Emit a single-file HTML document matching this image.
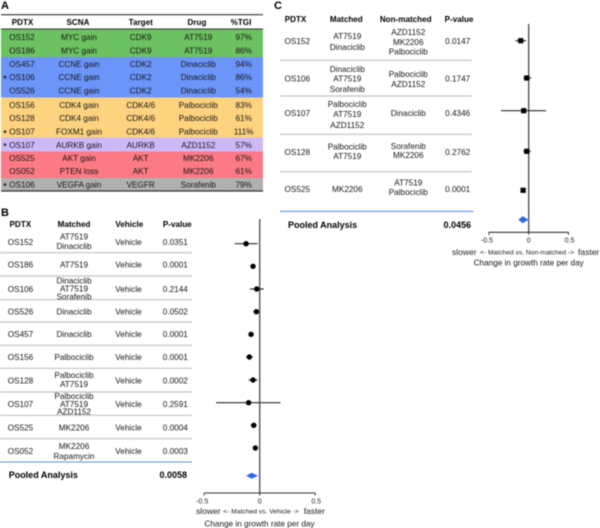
<!DOCTYPE html>
<html>
<head>
<meta charset="utf-8">
<style>
html,body{margin:0;padding:0;background:#fff;width:600px;height:528px;overflow:hidden}
svg{display:block;filter:blur(0.42px)}
text{font-family:"Liberation Sans",sans-serif;font-size:8.2px;fill:#151515}
.h{font-weight:bold;font-size:8.1px;fill:#000;text-anchor:middle}
.l{font-weight:bold;font-size:11px;fill:#000}
.p{font-weight:bold;font-size:9px;fill:#000}
.t{font-size:7px;text-anchor:middle;fill:#222}
.k{font-size:8.5px;fill:#222}
.a{font-size:6.7px;fill:#222}
.st{font-weight:bold;font-size:8.5px}
</style>
</head>
<body>
<svg id="figure" width="600" height="528" viewBox="0 0 600 528" xmlns="http://www.w3.org/2000/svg">
<g>
<text class="l" x="1" y="9">A</text>
<rect x="1" y="29" width="262" height="28" fill="#6cc160"/>
<rect x="1" y="57" width="262" height="40.500" fill="#6c95fa"/>
<rect x="1" y="97.500" width="262" height="40" fill="#fdd37f"/>
<rect x="1" y="137.500" width="262" height="14" fill="#cfb8f8"/>
<rect x="1" y="151.500" width="262" height="26.500" fill="#fc7a85"/>
<rect x="1" y="178" width="262" height="13" fill="#b0b0b0"/>
<line x1="1" x2="263" y1="14.700" y2="14.700" stroke="#333" stroke-width="1.200"/>
<line x1="1" x2="263" y1="29" y2="29" stroke="#333" stroke-width="1"/>
<line x1="1" x2="263" y1="191" y2="191" stroke="#333" stroke-width="1.200"/>
<text class="h" x="22.500" y="24.800">PDTX</text>
<text class="h" x="78" y="24.800">SCNA</text>
<text class="h" x="140.700" y="24.800">Target</text>
<text class="h" x="197" y="24.800">Drug</text>
<text class="h" x="241" y="24.800">%TGI</text>

<g text-anchor="middle"><text x="22" y="40.200">OS152</text><text x="79" y="40.200">MYC gain</text><text x="140.700" y="40.200">CDK9</text><text x="198.300" y="40.200">AT7519</text><text x="243.700" y="40.200">97%</text></g>
<g text-anchor="middle"><text x="22" y="53.600">OS186</text><text x="79" y="53.600">MYC gain</text><text x="140.700" y="53.600">CDK9</text><text x="198.300" y="53.600">AT7519</text><text x="243.700" y="53.600">86%</text></g>
<g text-anchor="middle"><text x="22" y="66.900">OS457</text><text x="79" y="66.900">CCNE gain</text><text x="140.700" y="66.900">CDK2</text><text x="198.300" y="66.900">Dinaciclib</text><text x="243.700" y="66.900">94%</text></g>
<g text-anchor="middle"><text class="st" x="5" y="81.500">*</text><text x="22" y="80.200">OS106</text><text x="79" y="80.200">CCNE gain</text><text x="140.700" y="80.200">CDK2</text><text x="198.300" y="80.200">Dinaciclib</text><text x="243.700" y="80.200">86%</text></g>
<g text-anchor="middle"><text x="22" y="93.600">OS526</text><text x="79" y="93.600">CCNE gain</text><text x="140.700" y="93.600">CDK2</text><text x="198.300" y="93.600">Dinaciclib</text><text x="243.700" y="93.600">54%</text></g>
<g text-anchor="middle"><text x="22" y="107.900">OS156</text><text x="79" y="107.900">CDK4 gain</text><text x="140.700" y="107.900">CDK4/6</text><text x="198.300" y="107.900">Palbociclib</text><text x="243.700" y="107.900">83%</text></g>
<g text-anchor="middle"><text x="22" y="121.200">OS128</text><text x="79" y="121.200">CDK4 gain</text><text x="140.700" y="121.200">CDK4/6</text><text x="198.300" y="121.200">Palbociclib</text><text x="243.700" y="121.200">61%</text></g>
<g text-anchor="middle"><text class="st" x="5" y="135.900">*</text><text x="22" y="134.600">OS107</text><text x="79" y="134.600">FOXM1 gain</text><text x="140.700" y="134.600">CDK4/6</text><text x="198.300" y="134.600">Palbociclib</text><text x="243.700" y="134.600">111%</text></g>
<g text-anchor="middle"><text class="st" x="5" y="149.200">*</text><text x="22" y="147.900">OS107</text><text x="79" y="147.900">AURKB gain</text><text x="140.700" y="147.900">AURKB</text><text x="198.300" y="147.900">AZD1152</text><text x="243.700" y="147.900">57%</text></g>
<g text-anchor="middle"><text x="22" y="160.900">OS525</text><text x="79" y="160.900">AKT gain</text><text x="140.700" y="160.900">AKT</text><text x="198.300" y="160.900">MK2206</text><text x="243.700" y="160.900">67%</text></g>
<g text-anchor="middle"><text x="22" y="174.200">OS052</text><text x="79" y="174.200">PTEN loss</text><text x="140.700" y="174.200">AKT</text><text x="198.300" y="174.200">MK2206</text><text x="243.700" y="174.200">61%</text></g>
<g text-anchor="middle"><text class="st" x="5" y="188.900">*</text><text x="22" y="187.600">OS106</text><text x="79" y="187.600">VEGFA gain</text><text x="140.700" y="187.600">VEGFR</text><text x="198.300" y="187.600">Sorafenib</text><text x="243.700" y="187.600">79%</text></g>
</g>

<g>
<text class="l" x="1" y="216">B</text>
<text class="h" x="20.300" y="226.900">PDTX</text>
<text class="h" x="74" y="226.900">Matched</text>
<text class="h" x="129.300" y="226.900">Vehicle</text>
<text class="h" x="177.300" y="226.900">P-value</text>
<g stroke="#c2c2c2" stroke-width="1.200">
<line x1="0" x2="192" y1="252.700" y2="252.700"/>
<line x1="0" x2="192" y1="276" y2="276"/>
<line x1="0" x2="192" y1="299.700" y2="299.700"/>
<line x1="0" x2="192" y1="322" y2="322"/>
<line x1="0" x2="192" y1="345.300" y2="345.300"/>
<line x1="0" x2="192" y1="368.300" y2="368.300"/>
<line x1="0" x2="192" y1="392" y2="392"/>
<line x1="0" x2="192" y1="415.300" y2="415.300"/>
<line x1="0" x2="192" y1="438.700" y2="438.700"/>
</g>
<line x1="0" x2="192" y1="462" y2="462" stroke="#5f8fe8" stroke-width="1.100"/>
<g text-anchor="middle"><text x="20.500" y="244.900">OS152</text><text x="74" y="239.600">AT7519</text><text x="74" y="248.900">Dinaciclib</text><text x="128.500" y="244.900">Vehicle</text><text x="175.300" y="244.900">0.0351</text></g>
<g text-anchor="middle"><text x="20.500" y="267.600">OS186</text><text x="74" y="267.600">AT7519</text><text x="128.500" y="267.600">Vehicle</text><text x="175.300" y="267.600">0.0001</text></g>
<g text-anchor="middle"><text x="20.500" y="291.900">OS106</text><text x="74" y="283.600">Dinaciclib</text><text x="74" y="291.600">AT7519</text><text x="74" y="299.600">Sorafenib</text><text x="128.500" y="291.900">Vehicle</text><text x="175.300" y="291.900">0.2144</text></g>
<g text-anchor="middle"><text x="20.500" y="314.600">OS526</text><text x="74" y="314.600">Dinaciclib</text><text x="128.500" y="314.600">Vehicle</text><text x="175.300" y="314.600">0.0502</text></g>
<g text-anchor="middle"><text x="20.500" y="337.200">OS457</text><text x="74" y="337.200">Dinaciclib</text><text x="128.500" y="337.200">Vehicle</text><text x="175.300" y="337.200">0.0001</text></g>
<g text-anchor="middle"><text x="20.500" y="360.200">OS156</text><text x="74" y="360.200">Palbociclib</text><text x="128.500" y="360.200">Vehicle</text><text x="175.300" y="360.200">0.0001</text></g>
<g text-anchor="middle"><text x="20.500" y="383.600">OS128</text><text x="74" y="377.900">Palbociclib</text><text x="74" y="386.900">AT7519</text><text x="128.500" y="383.600">Vehicle</text><text x="175.300" y="383.600">0.0002</text></g>
<g text-anchor="middle"><text x="20.500" y="406.900">OS107</text><text x="74" y="398.900">Palbociclib</text><text x="74" y="406.900">AT7519</text><text x="74" y="414.600">AZD1152</text><text x="128.500" y="406.900">Vehicle</text><text x="175.300" y="406.900">0.2591</text></g>
<g text-anchor="middle"><text x="20.500" y="430.600">OS525</text><text x="74" y="430.600">MK2206</text><text x="128.500" y="430.600">Vehicle</text><text x="175.300" y="430.600">0.0004</text></g>
<g text-anchor="middle"><text x="20.500" y="453.900">OS052</text><text x="74" y="448.900">MK2206</text><text x="74" y="458.900">Rapamycin</text><text x="128.500" y="453.900">Vehicle</text><text x="175.300" y="453.900">0.0003</text></g>
<text class="p" x="8.700" y="477.900">Pooled Analysis</text>
<text class="p" x="173.300" y="477.900" text-anchor="middle">0.0058</text>
</g>

<g>
<text class="l" x="274" y="9">C</text>
<text class="h" x="295.500" y="22.200">PDTX</text>
<text class="h" x="346.300" y="22.200">Matched</text>
<text class="h" x="405.700" y="22.200">Non-matched</text>
<text class="h" x="459" y="22.200">P-value</text>
<g stroke="#c2c2c2" stroke-width="1.200">
<line x1="280" x2="471.700" y1="60.300" y2="60.300"/>
<line x1="280" x2="471.700" y1="96" y2="96"/>
<line x1="280" x2="471.700" y1="134.300" y2="134.300"/>
<line x1="280" x2="471.700" y1="171.700" y2="171.700"/>
</g>
<line x1="280" x2="473.500" y1="211.300" y2="211.300" stroke="#5f8fe8" stroke-width="1.100"/>
<g text-anchor="middle"><text x="297.300" y="44.200">OS152</text><text x="347.300" y="38.900">AT7519</text><text x="347.300" y="49.900">Dinaciclib</text><text x="408.300" y="35.200">AZD1152</text><text x="408.300" y="45.200">MK2206</text><text x="408.300" y="54.600">Palbociclib</text><text x="457.700" y="44.200">0.0147</text></g>
<g text-anchor="middle"><text x="297.300" y="81.600">OS106</text><text x="347.300" y="71.900">Dinaciclib</text><text x="347.300" y="81.600">AT7519</text><text x="347.300" y="91.900">Sorafenib</text><text x="408.300" y="76.900">Palbociclib</text><text x="408.300" y="86.900">AZD1152</text><text x="457.700" y="81.600">0.1747</text></g>
<g text-anchor="middle"><text x="297.300" y="116.200">OS107</text><text x="347.300" y="107.200">Palbociclib</text><text x="347.300" y="117.200">AT7519</text><text x="347.300" y="127.900">AZD1152</text><text x="408.300" y="116.200">Dinaciclib</text><text x="457.700" y="116.200">0.4346</text></g>
<g text-anchor="middle"><text x="297.300" y="154.900">OS128</text><text x="347.300" y="149.600">Palbociclib</text><text x="347.300" y="158.900">AT7519</text><text x="408.300" y="148.900">Sorafenib</text><text x="408.300" y="158.200">MK2206</text><text x="457.700" y="154.900">0.2762</text></g>
<g text-anchor="middle"><text x="297.300" y="192.200">OS525</text><text x="347.300" y="192.200">MK2206</text><text x="408.300" y="185.600">AT7519</text><text x="408.300" y="195.200">Palbociclib</text><text x="457.700" y="192.200">0.0001</text></g>
<text class="p" x="288" y="227.800">Pooled Analysis</text>
<text class="p" x="457.300" y="227.800" text-anchor="middle">0.0456</text>
</g>

<g id="forest-b">
<text class="k" x="196" y="514">slower</text>
<text class="a" x="223.300" y="513.600">&lt;- Matched vs. Vehicle -&gt;</text>
<text class="k" x="303.700" y="514">faster</text>
<text x="259.500" y="526.500" text-anchor="middle">Change in growth rate per day</text>
</g>
<g id="forest-c">
<text class="k" x="452" y="255">slower</text>
<text class="a" x="480" y="254.600">&lt;- Matched vs. Non-matched -&gt;</text>
<text class="k" x="578" y="255">faster</text>
<text x="528.700" y="265.500" text-anchor="middle">Change in growth rate per day</text>
</g>
</svg>
<script>
const bStudies = ['OS152','OS186','OS106','OS526','OS457','OS156','OS128','OS107','OS525','OS052'];
const bEffect = [-0.123,-0.06,-0.027,-0.03,-0.078,-0.093,-0.06,-0.10,-0.054,-0.039];
const bLower = [-0.225,-0.07,-0.087,-0.057,-0.10,-0.123,-0.10,-0.393,-0.08,-0.06];
const bUpper = [-0.018,-0.05,0.036,-0.003,-0.054,-0.063,-0.02,0.186,-0.027,-0.018];
const bPooled = [-0.072,-0.123,-0.015];
const cStudies = ['OS152','OS106','OS107','OS128','OS525'];
const cEffect = [-0.10,-0.025,-0.063,-0.025,-0.07];
const cLower = [-0.167,-0.067,-0.347,-0.067,-0.078];
const cUpper = [-0.033,0.03,0.218,0.025,-0.062];
const cPooled = [-0.075,-0.13,-0.004];
const tickValues = [-0.5,0,0.5];
const tickLabelsB = ['-0.5','0','0.5'];
const tickLabelsC = ['-0.5','0','0.5'];

const NS = 'http://www.w3.org/2000/svg';
function add(parent, tag, attrs) {
  const el = document.createElementNS(NS, tag);
  for (const k in attrs) el.setAttribute(k, attrs[k]);
  parent.appendChild(el);
  return el;
}
function drawForest(cfg) {
  const g = document.getElementById(cfg.id);
  const x = v => cfg.zero + v * cfg.scale;
  const zero = add(g, 'line', {x1:x(0), x2:x(0), y1:cfg.top, y2:cfg.axisY, stroke:'#555', 'stroke-width':1.4});
  
  
  const axis = add(g, 'line', {x1:x(tickValues[0]), x2:x(tickValues[tickValues.length-1]), y1:cfg.axisY, y2:cfg.axisY, stroke:'#333', 'stroke-width':1.1});
  
  
  tickValues.forEach((v, i) => {
    const t = add(g, 'line', {x1:x(v), x2:x(v), y1:cfg.axisY, y2:cfg.axisY + 2.5, stroke:'#333', 'stroke-width':1});
    
    
    const lab = add(g, 'text', {x:x(v) + (v < 0 ? -2 : v > 0 ? 1 : 0), y:cfg.axisY + 10.3, class:'t'});
    lab.textContent = cfg.tickLabels[i];
    
    
  });
  cfg.studies.forEach((s, i) => {
    const y = cfg.rowY(i);
    const ci = add(g, 'line', {x1:x(cfg.lower[i]), x2:x(cfg.upper[i]), y1:y, y2:y, stroke:'#2a2a2a', 'stroke-width':1.2});
    
    
    const m = cfg.square
      ? add(g, 'rect', {x:x(cfg.effect[i]) - 2.6, y:y - 2.6, width:5.2, height:5.2, fill:'#000'})
      : add(g, 'circle', {cx:x(cfg.effect[i]), cy:y, r:2.7, fill:'#000'});
    
    
  });
  const p = cfg.pooled, h = cfg.pooledH;
  const d = add(g, 'polygon', {points:[[x(p[1]),cfg.pooledY],[x(p[0]),cfg.pooledY-h],[x(p[2]),cfg.pooledY],[x(p[0]),cfg.pooledY+h]].join(' '), fill:'#2f66e8'});
  
  
}
const bRowY = [243.7,266.3,289,311.7,334.3,357,380,402.7,425.3,448];
const cRowY = [40.7,78,110.7,151.3,190.3];
drawForest({id:'forest-b', zero:259.7, scale:111, top:219, axisY:493, studies:bStudies, effect:bEffect, lower:bLower, upper:bUpper, pooled:bPooled, pooledY:475.7, pooledH:3, rowY:i => bRowY[i], tickLabels:tickLabelsB, square:false});
drawForest({id:'forest-c', zero:528.7, scale:79.6, top:24, axisY:232.3, studies:cStudies, effect:cEffect, lower:cLower, upper:cUpper, pooled:cPooled, pooledY:219.7, pooledH:3.6, rowY:i => cRowY[i], tickLabels:tickLabelsC, square:true});
</script>
</body>
</html>
